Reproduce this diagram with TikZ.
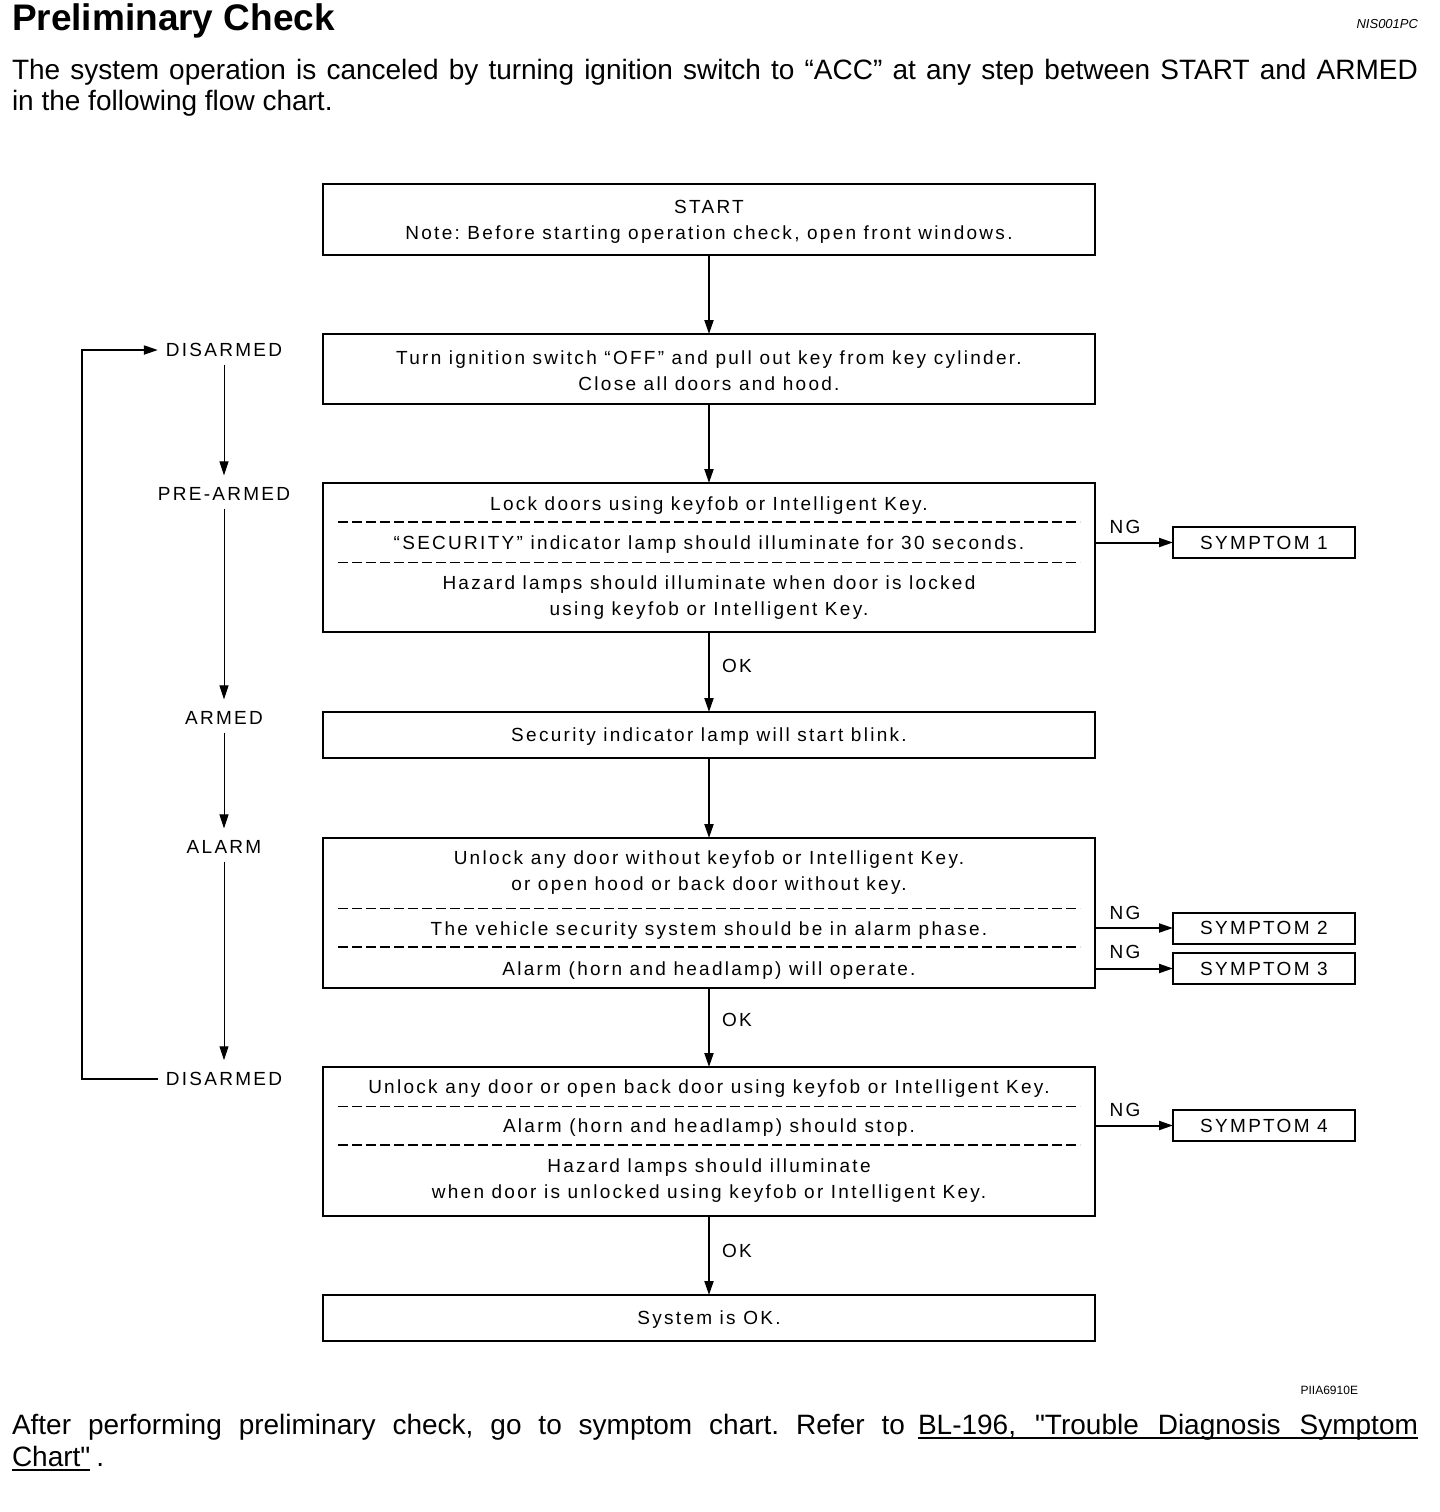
\documentclass[tikz,border=0pt]{standalone}
\usepackage{fontspec}
\setmainfont{Liberation Sans}
\newfontfamily\bxf[LetterSpace=12]{Liberation Sans}
\newfontfamily\pf[Ligatures=TeXOff]{Liberation Sans}
\usetikzlibrary{arrows.meta}
\frenchspacing
\begin{document}
\begin{tikzpicture}[x=0.5pt,y=-0.5pt,
  every node/.style={inner sep=0pt, outer sep=0pt},
  box/.style={draw, line width=1pt, minimum width=386pt},
  sym/.style={draw, line width=1pt, minimum width=91pt, minimum height=15.5pt, font=\bxf\fontsize{9.5pt}{11pt}\selectfont},
  txt/.style={align=center, yshift=-1pt, font=\bxf\fontsize{9.5pt}{13pt}\selectfont},
  lbl/.style={font=\bxf\fontsize{9.5pt}{11pt}\selectfont, inner sep=4pt},
  arr/.style={line width=1pt, -{Triangle[length=7pt,width=4.5pt]}},
  tarr/.style={line width=0.5pt, -{Triangle[length=7pt,width=4.5pt]}},
  bdash/.style={line width=0.9pt, dash pattern=on 5pt off 2pt},
  tdash/.style={line width=0.5pt, dash pattern=on 5pt off 2pt},
  para/.style={font=\pf\frenchspacing\fontsize{14pt}{16pt}\selectfont},
]
\useasboundingbox (0,0) rectangle (1440,1512);

% header
\node[anchor=base west, font=\bfseries\fontsize{18.5pt}{20pt}\selectfont] (title) at (12,30) {Preliminary Check};
\node[anchor=base east, font=\itshape\fontsize{6.5pt}{7pt}\selectfont] (code) at (1418,28) {NIS001PC};
\node[anchor=base west, para] (intro1) at (12,79) {\makebox[703pt][s]{The system operation is canceled by turning ignition switch to “ACC” at any step between START and ARMED}};
\node[anchor=base west, para] (intro2) at (12,110) {in the following flow chart.};

% main boxes
\node[box, minimum height=35.5pt] (b1) at (709,219.5) {};
\node[box, minimum height=35pt] (b2) at (709,369) {};
\node[box, minimum height=74.5pt] (b3) at (709,557.5) {};
\node[box, minimum height=23pt] (b4) at (709,735) {};
\node[box, minimum height=75pt] (b5) at (709,913) {};
\node[box, minimum height=74.5pt] (b6) at (709,1141.5) {};
\node[box, minimum height=23pt] (b7) at (709,1318) {};

% box texts
\node[txt] (t1) at (709,220) {START\\Note: Before starting operation check, open front windows.};
\node[txt] (t2) at (709,369) {Turn ignition switch “OFF” and pull out key from key cylinder.\\Close all doors and hood.};
\node[txt] (t3a) at (709,504) {Lock doors using keyfob or Intelligent Key.};
\node[txt] (t3b) at (709,543) {“SECURITY” indicator lamp should illuminate for 30 seconds.};
\node[txt] (t3c) at (709,595.5) {Hazard lamps should illuminate when door is locked\\using keyfob or Intelligent Key.};
\node[txt] (t4) at (709,735) {Security indicator lamp will start blink.};
\node[txt] (t5a) at (709,871) {Unlock any door without keyfob or Intelligent Key.\\or open hood or back door without key.};
\node[txt] (t5b) at (709,929) {The vehicle security system should be in alarm phase.};
\node[txt] (t5c) at (709,969) {Alarm (horn and headlamp) will operate.};
\node[txt] (t6a) at (709,1087) {Unlock any door or open back door using keyfob or Intelligent Key.};
\node[txt] (t6b) at (709,1126) {Alarm (horn and headlamp) should stop.};
\node[txt] (t6c) at (709,1179) {Hazard lamps should illuminate\\when door is unlocked using keyfob or Intelligent Key.};
\node[txt] (t7) at (709,1318) {System is OK.};

% separators
\draw[bdash] (338,522) -- (1080,522);
\draw[tdash] (338,562) -- (1080,562);
\draw[tdash] (338,908) -- (1080,908);
\draw[bdash] (338,947) -- (1080,947);
\draw[tdash] (338,1106) -- (1080,1106);
\draw[bdash] (338,1145) -- (1080,1145);

% main flow
\draw[arr] (b1.south) -- (b2.north);
\draw[arr] (b2.south) -- (b3.north);
\draw[arr] (b3.south) -- (b4.north);
\draw[arr] (b4.south) -- (b5.north);
\draw[arr] (b5.south) -- (b6.north);
\draw[arr] (b6.south) -- (b7.north);
\node[lbl] (ok1) at (737,666) {OK};
\node[lbl] (ok2) at (737,1020) {OK};
\node[lbl] (ok3) at (737,1251) {OK};

% symptoms
\node[sym] (s1) at (1264,542.5) {SYMPTOM 1};
\node[sym] (s2) at (1264,928) {SYMPTOM 2};
\node[sym] (s3) at (1264,968.5) {SYMPTOM 3};
\node[sym] (s4) at (1264,1125.5) {SYMPTOM 4};
\draw[arr] (b3.east |- s1.west) -- (s1.west);
\draw[arr] (b5.east |- s2.west) -- (s2.west);
\draw[arr] (b5.east |- s3.west) -- (s3.west);
\draw[arr] (b6.east |- s4.west) -- (s4.west);
\node[lbl] (ng1) at (1125,527) {NG};
\node[lbl] (ng2) at (1125,913) {NG};
\node[lbl] (ng3) at (1125,952) {NG};
\node[lbl] (ng4) at (1125,1110) {NG};

% states
\node[lbl] (l1) at (224,350) {DISARMED};
\node[lbl] (l2) at (224,494) {PRE-ARMED};
\node[lbl] (l3) at (224,718) {ARMED};
\node[lbl] (l4) at (224,847) {ALARM};
\node[lbl] (l5) at (224,1079) {DISARMED};
\draw[tarr, shorten >=2pt] (l1.south) -- (l2.north);
\draw[tarr, shorten >=2pt] (l2.south) -- (l3.north);
\draw[tarr, shorten >=2pt] (l3.south) -- (l4.north);
\draw[tarr, shorten >=2pt] (l4.south) -- (l5.north);
\coordinate (lp) at (82,1079);
\draw[arr] (l5.west) -- (lp) |- (l1.west);

% footer
\node[anchor=base east, font=\fontsize{6pt}{7pt}\selectfont] (code2) at (1358,1394) {PIIA6910E};
\node[anchor=base west, para] (fa) at (12,1434) {\makebox[446.5pt][s]{After performing preliminary check, go to symptom chart. Refer to}};
\node[anchor=base east, para] (fb) at (1418,1434) {\makebox[250pt][s]{BL-196, "Trouble Diagnosis Symptom}};
\node[anchor=base west, para] (fc) at (12,1466) {Chart"};
\node[anchor=base west, para] (fd) at ([xshift=3pt]fc.base east) {.};
\draw[line width=1.2pt] ([yshift=-2pt]fb.base west) -- ([yshift=-2pt]fb.base east);
\draw[line width=1.2pt] ([yshift=-2pt]fc.base west) -- ([yshift=-2pt]fc.base east);
\end{tikzpicture}
\end{document}
